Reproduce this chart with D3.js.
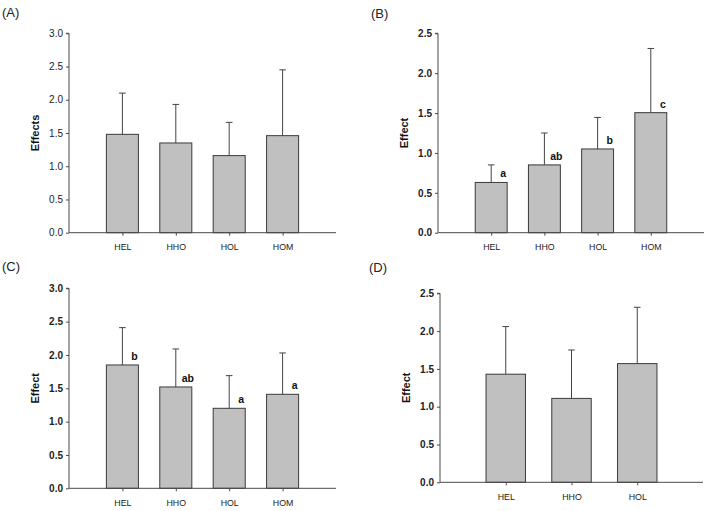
<!DOCTYPE html>
<html>
<head>
<meta charset="utf-8">
<script src="https://cdn.jsdelivr.net/npm/d3@7/dist/d3.min.js"></script>
<style>
  html, body { margin: 0; padding: 0; background: #fff; }
  svg { display: block; font-family: Arial, "Liberation Sans", sans-serif; }
</style>
</head>
<body>
<svg id="chart" width="717" height="511"></svg>
<script>
// ---------- DATA ----------
const categoriesABC = ["HEL", "HHO", "HOL", "HOM"];
const categoriesD = ["HEL", "HHO", "HOL"];

const valuesA = [1.48, 1.35, 1.16, 1.46];
const errorsA = [0.62, 0.58, 0.50, 0.99];

const valuesB = [0.63, 0.85, 1.05, 1.505];
const errorsB = [0.22, 0.40, 0.395, 0.805];
const lettersB = ["a", "ab", "b", "c"];

const valuesC = [1.85, 1.52, 1.20, 1.41];
const errorsC = [0.56, 0.57, 0.49, 0.62];
const lettersC = ["b", "ab", "a", "a"];

const valuesD = [1.43, 1.11, 1.57];
const errorsD = [0.63, 0.64, 0.745];

const ticks30 = [0, 0.5, 1.0, 1.5, 2.0, 2.5, 3.0];
const ticks25 = [0, 0.5, 1.0, 1.5, 2.0, 2.5];

const panelLabels = ["(A)", "(B)", "(C)", "(D)"];
const yTitles = ["Effects", "Effect", "Effect", "Effect"];

// ---------- LAYOUT ----------
const panels = [
  { cats: categoriesABC, vals: valuesA, errs: errorsA, letters: null, ticks: ticks30, ymax: 3.0,
    x0: 69, x1: 336, yTop: 33.3, yBot: 232.7, boldTicks: false, label: panelLabels[0], lx: 2, ly: 17,
    title: yTitles[0], tx: 34.5 },
  { cats: categoriesABC, vals: valuesB, errs: errorsB, letters: lettersB, ticks: ticks25, ymax: 2.5,
    x0: 438, x1: 704, yTop: 33.3, yBot: 232.7, boldTicks: true, label: panelLabels[1], lx: 371, ly: 18,
    title: yTitles[1], tx: 403.5 },
  { cats: categoriesABC, vals: valuesC, errs: errorsC, letters: lettersC, ticks: ticks30, ymax: 3.0,
    x0: 69, x1: 336, yTop: 288.3, yBot: 488.3, boldTicks: true, label: panelLabels[2], lx: 2, ly: 271,
    title: yTitles[2], tx: 34.5 },
  { cats: categoriesD, vals: valuesD, errs: errorsD, letters: null, ticks: ticks25, ymax: 2.5,
    x0: 440, x1: 703, yTop: 293.3, yBot: 482.3, boldTicks: true, label: panelLabels[3], lx: 369, ly: 272,
    title: yTitles[3], tx: 405.5 }
];

const svg = d3.select("#chart");
const axisColor = "#4a4a4a";
const barStroke = "#3a3a3a";
const barFill = "#c0c0c0";

panels.forEach(p => {
  const n = p.cats.length;
  const x = d3.scaleLinear().domain([0, n + 1]).range([p.x0, p.x1]);
  const y = d3.scaleLinear().domain([0, p.ymax]).range([p.yBot, p.yTop]);
  const step = x(1) - x(0);
  const bw = step * 0.6;
  const g = svg.append("g");

  // bars
  p.vals.forEach((v, i) => {
    const cx = x(i + 1);
    g.append("rect")
      .attr("x", cx - bw / 2).attr("y", y(v))
      .attr("width", bw).attr("height", y(0) - y(v))
      .attr("fill", barFill).attr("stroke", barStroke).attr("stroke-width", 1);
    // error bar (upper only)
    const top = y(v + p.errs[i]);
    g.append("line").attr("x1", cx).attr("x2", cx).attr("y1", y(v)).attr("y2", top)
      .attr("stroke", "#444").attr("stroke-width", 1);
    g.append("line").attr("x1", cx - 3.3).attr("x2", cx + 3.3).attr("y1", top).attr("y2", top)
      .attr("stroke", "#444").attr("stroke-width", 1);
    if (p.letters) {
      g.append("text").attr("x", cx + 12).attr("y", y(v) - 5)
        .attr("text-anchor", "middle").attr("font-size", 10.5).attr("font-weight", "bold")
        .attr("fill", "#111").text(p.letters[i]);
    }
  });

  // y axis
  const yAxis = d3.axisLeft(y).tickValues(p.ticks).tickFormat(d3.format(".1f"))
    .tickSize(3).tickPadding(3);
  const ya = g.append("g").attr("transform", `translate(${p.x0},0)`).call(yAxis);
  ya.select(".domain").attr("stroke", axisColor).attr("d", `M-3,${p.yTop}H0V${p.yBot}`);
  ya.selectAll(".tick line").attr("stroke", axisColor);
  ya.selectAll(".tick text").attr("font-size", 10).attr("fill", "#222")
    .attr("font-family", "Arial, 'Liberation Sans', sans-serif")
    .attr("font-weight", p.boldTicks ? "bold" : "normal");

  // x axis
  const xAxis = d3.axisBottom(x).tickValues(d3.range(1, n + 1))
    .tickFormat(i => p.cats[i - 1]).tickSize(3).tickPadding(8);
  const xa = g.append("g").attr("transform", `translate(0,${p.yBot})`).call(xAxis);
  xa.select(".domain").attr("stroke", axisColor).attr("d", `M${p.x0},0H${p.x1}`);
  xa.selectAll(".tick line").attr("stroke", axisColor);
  xa.selectAll(".tick text").attr("font-size", 8.8).attr("fill", "#222")
    .attr("font-family", "Arial, 'Liberation Sans', sans-serif");

  // y title
  g.append("text")
    .attr("transform", `translate(${p.tx},${(p.yTop + p.yBot) / 2}) rotate(-90)`)
    .attr("text-anchor", "middle").attr("dominant-baseline", "central")
    .attr("font-size", 11).attr("font-weight", "bold").attr("fill", "#111")
    .text(p.title);

  // panel label
  svg.append("text").attr("x", p.lx).attr("y", p.ly)
    .attr("font-size", 13).attr("fill", "#222").text(p.label);
});
</script>
</body>
</html>
